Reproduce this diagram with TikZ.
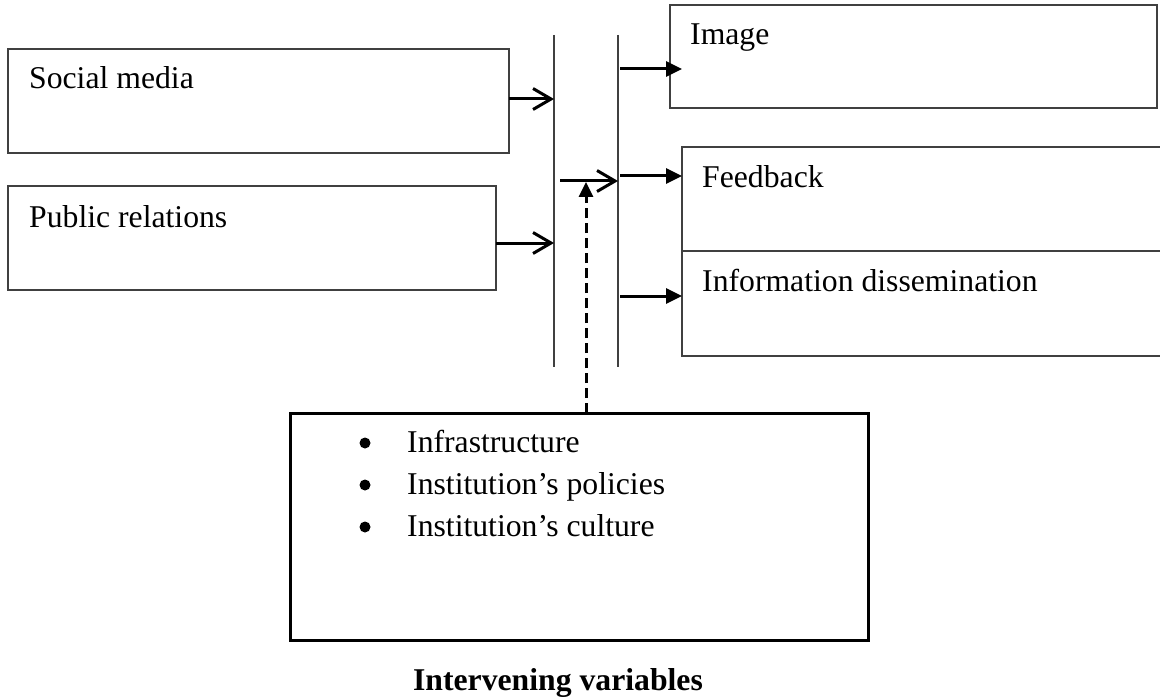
\documentclass[tikz,border=0pt]{standalone}
\usepackage{fontspec}
\setmainfont{Liberation Serif}
\usetikzlibrary{arrows.meta,calc}
\tikzset{
  box/.style={draw=black!75, line width=1.8pt, rectangle, inner sep=0pt, outer sep=0pt, anchor=north west},
  bigbox/.style={draw=black, line width=3pt, rectangle, inner sep=0pt, outer sep=0pt, anchor=north west},
  lbl/.style={anchor=base west, inner sep=0pt, font=\fontsize{31.7}{38}\selectfont},
  vline/.style={draw=black!75, line width=1.8pt},
  openarr/.style={draw=black, line width=3pt, -{Straight Barb[length=18pt,width=21pt,line width=3pt]}},
  fillarr/.style={draw=black, line width=3pt, -{Triangle[length=16pt,width=15pt]}},
  dasharr/.style={draw=black, line width=3pt, dash pattern=on 10pt off 5pt, -{Triangle[length=15pt,width=14pt]}}
}
\begin{document}
\begin{tikzpicture}[x=1pt,y=-1pt]
\useasboundingbox (0,0) rectangle (1160,698);
\clip (0,0) rectangle (1160,698);
% left boxes
\node[box, minimum width=501pt, minimum height=104pt] (sm) at (8,49) {};
\node[lbl] (smt) at (29,89) {Social media};
\node[box, minimum width=488pt, minimum height=104pt] (pr) at (8,186) {};
\node[lbl] (prt) at (29,227) {Public relations};
% right boxes
\node[box, minimum width=487pt, minimum height=103pt] (img) at (670,5) {};
\node[lbl] (imgt) at (690,45) {Image};
\node[box, minimum width=490pt, minimum height=104pt] (fb) at (682,147) {};
\node[lbl] (fbt) at (702,187) {Feedback};
\node[box, minimum width=490pt, minimum height=105pt] (inf) at (682,251) {};
\node[lbl] (inft) at (702,291) {Information dissemination};
% vertical bars
\coordinate (l1t) at (554,35);
\coordinate (l1b) at (554,367);
\coordinate (l2t) at (618,35);
\coordinate (l2b) at (618,367);
\draw[vline] (l1t) -- (l1b);
\draw[vline] (l2t) -- (l2b);
% inputs
\draw[openarr] ([yshift=2pt]sm.east) -- ([yshift=2pt]sm.east -| l1t);
\draw[openarr] ([yshift=-5pt]pr.east) -- ([yshift=-5pt]pr.east -| l1t);
\coordinate (mid) at (560,181);
\draw[openarr] (mid) -- (mid -| l2t);
% outputs
\coordinate (o1) at (620,69);
\coordinate (o2) at (620,176);
\coordinate (o3) at (620,296);
\draw[fillarr] (o1) -- (o1 -| fb.west);
\draw[fillarr] (o2) -- (o2 -| fb.west);
\draw[fillarr] (o3) -- (o3 -| inf.west);
% intervening box
\node[bigbox, minimum width=578pt, minimum height=227pt] (iv) at (290,413) {};
\coordinate (dtip) at (586,182);
\draw[dasharr] (iv.north -| dtip) -- (dtip);
\fill (365,443) circle (5.5pt);
\fill (365,485) circle (5.5pt);
\fill (365,527) circle (5.5pt);
\node[lbl] (iv1) at (407,452) {Infrastructure};
\node[lbl] (iv2) at (407,494) {Institution’s policies};
\node[lbl] (iv3) at (407,536) {Institution’s culture};
\node[lbl, anchor=base, font=\fontsize{31.7}{38}\selectfont\bfseries] (cap) at (558,690) {Intervening variables};
\end{tikzpicture}
\end{document}
